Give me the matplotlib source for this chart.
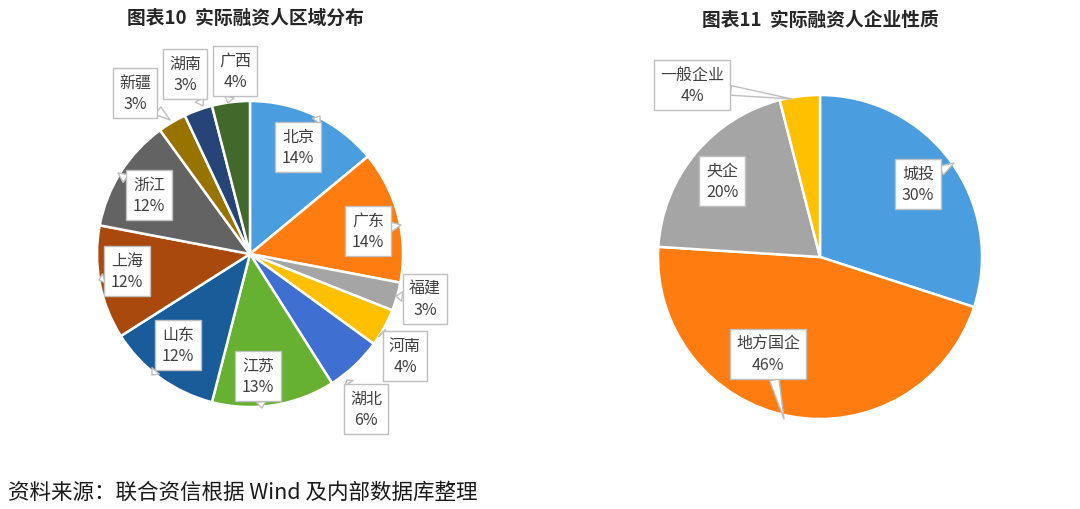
import matplotlib
matplotlib.use("Agg")
import matplotlib.pyplot as plt

plt.rcParams['font.family'] = ['Noto Sans CJK SC', 'DejaVu Sans']

# ---- data ----
region_labels = ['北京', '广东', '福建', '河南', '湖北', '江苏', '山东', '上海', '浙江', '新疆', '湖南', '广西']
region_values = [14, 14, 3, 4, 6, 13, 12, 12, 12, 3, 3, 4]
region_colors = ['#4a9ee0', '#ff7c10', '#a5a5a5', '#ffc000', '#3f6fd0', '#66b032',
                 '#1a5c9a', '#a9490d', '#636363', '#997300', '#264478', '#43682b']

type_labels = ['城投', '地方国企', '央企', '一般企业']
type_values = [30, 46, 20, 4]
type_colors = ['#4a9ee0', '#ff7c10', '#a5a5a5', '#ffc000']

title_left = '图表10  实际融资人区域分布'
title_right = '图表11  实际融资人企业性质'
footer = '资料来源：联合资信根据 Wind 及内部数据库整理'

# ---- layout (pixel coordinates, y downward) ----
W, H = 1080, 510
left_center, left_r = (250, 255), 153
right_center, right_r = (820, 258), 162

# label box centers and pointer targets (pixels)
left_label_pos = [(298, 148), (368, 232), (425, 300), (405, 357), (366, 410), (258, 377),
                  (178, 346), (127, 272), (149, 196), (135, 94), (185, 75), (235, 72)]
left_pointer = [(320, 117), (401, 226), (396, 297), (382, 334), (347, 381), (262, 409),
                (152, 376), (99, 281), (118, 174), (170, 121), (203, 107), (228, 104)]
right_label_pos = [(918, 185), (768, 355), (722, 182), (692, 86)]
right_pointer = [(954, 164), (784, 420), (None), (792, 100)]

fig = plt.figure(figsize=(W / 100, H / 100), dpi=100)
ax = fig.add_axes([0, 0, 1, 1])

def fy(y):
    return H - y

wedge_kw = dict(edgecolor='white', linewidth=1.8)
ax.pie(region_values, colors=region_colors, startangle=90, counterclock=False,
       center=(left_center[0], fy(left_center[1])), radius=left_r, wedgeprops=wedge_kw)
ax.pie(type_values, colors=type_colors, startangle=90, counterclock=False,
       center=(right_center[0], fy(right_center[1])), radius=right_r, wedgeprops=wedge_kw)

ax.set_xlim(0, W)
ax.set_ylim(0, H)
ax.set_aspect('equal')
ax.axis('off')

box = dict(boxstyle='square,pad=0.4', fc='white', ec='#bfbfbf', lw=1.0)

def callout(label, value, pos, target):
    txt = f'{label}\n{value}%'
    if target is None:
        ax.text(pos[0], fy(pos[1]), txt, ha='center', va='center', fontsize=11.5,
                color='#404040', linespacing=1.3, bbox=box, zorder=5)
    else:
        ax.annotate(txt, xy=(target[0], fy(target[1])), xytext=(pos[0], fy(pos[1])),
                    ha='center', va='center', fontsize=11.5, color='#404040',
                    linespacing=1.3, bbox=box, zorder=5,
                    arrowprops=dict(arrowstyle='wedge,tail_width=0.6,shrink_factor=0.5',
                                    fc='white', ec='#bfbfbf', lw=1.0,
                                    shrinkA=0, shrinkB=0))

for lab, val, p, t in zip(region_labels, region_values, left_label_pos, left_pointer):
    callout(lab, val, p, t)
for lab, val, p, t in zip(type_labels, type_values, right_label_pos, right_pointer):
    callout(lab, val, p, t)

ax.text(245, fy(18), title_left, ha='center', va='center', fontsize=13.5,
        color='#262626', fontweight='bold')
ax.text(820, fy(21), title_right, ha='center', va='center', fontsize=13.5,
        color='#262626', fontweight='bold')
ax.text(8, fy(493), footer, ha='left', va='center', fontsize=15.5, color='#1a1a1a')

fig.savefig('out.png', dpi=100)
